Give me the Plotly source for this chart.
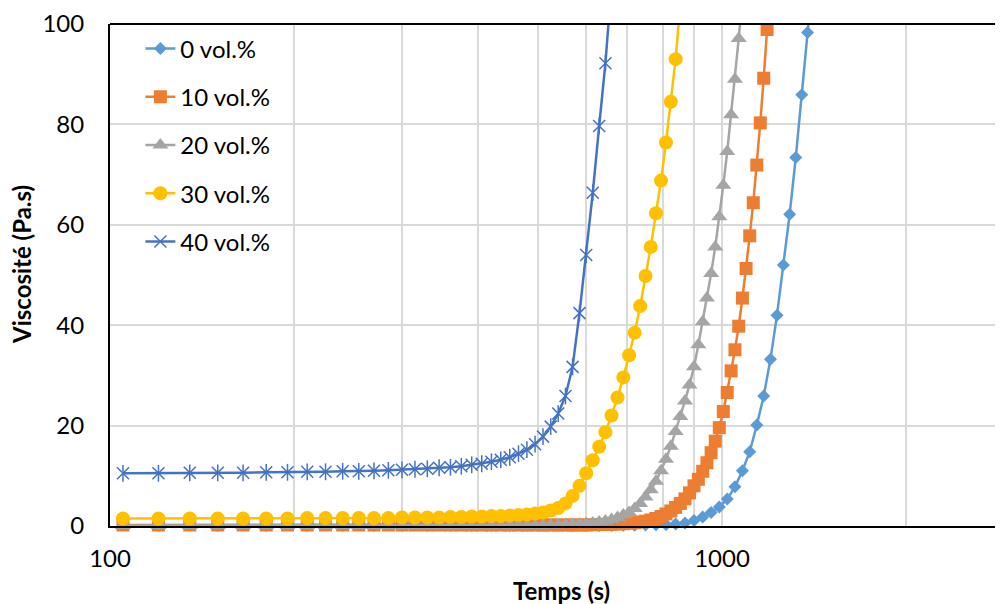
import plotly.graph_objects as go

# ---- data -------------------------------------------------------------
TIME_15S = [105, 120, 135, 150, 165, 180, 195, 210, 225, 240, 255, 270, 285, 300,
            315, 330, 345, 360, 375, 390, 405, 420, 435, 450, 465, 480, 495, 510,
            525, 540, 555, 570, 585, 600, 615, 630, 645, 660, 675, 690, 705, 720,
            735, 750, 765, 780, 795, 810, 825, 840, 855, 870, 885, 900, 915, 930,
            945, 960, 975, 990, 1005, 1020, 1035, 1050, 1065, 1080, 1095, 1110,
            1125, 1140, 1155, 1170, 1185, 1200]

TIME_30S = [120, 150, 180, 210, 240, 270, 300, 330, 360, 390, 420, 450, 480, 510,
            540, 570, 600, 630, 660, 690, 720, 750, 780, 810, 840, 870, 900, 930,
            960, 990, 1020, 1050, 1080, 1110, 1140, 1170, 1200, 1230, 1260, 1290,
            1320, 1350, 1380, 1410]

VISC_0 = [0.1, 0.1, 0.1, 0.1, 0.1, 0.1, 0.1, 0.1, 0.1, 0.1, 0.1, 0.1, 0.1, 0.1,
          0.1, 0.1, 0.1, 0.1, 0.1, 0.15, 0.15, 0.2, 0.25, 0.3, 0.4, 0.6, 1.1, 1.8,
          2.7, 3.8, 5.4, 7.8, 11.0, 14.8, 20.1, 25.9, 33.2, 42.0, 52.0, 62.1,
          73.4, 85.9, 98.3, 111.0]

VISC_10 = [0.2, 0.2, 0.2, 0.2, 0.2, 0.2, 0.2, 0.2, 0.2, 0.2, 0.2, 0.2,
           0.2, 0.2, 0.2, 0.2, 0.2, 0.2, 0.2, 0.2, 0.2, 0.2, 0.2, 0.2, 0.2, 0.2,
           0.2, 0.2, 0.2, 0.2, 0.2, 0.2, 0.2, 0.2, 0.25, 0.3, 0.3, 0.35, 0.4,
           0.45, 0.55, 0.65, 0.8, 0.95, 1.2, 1.5, 1.9, 2.4, 3.0, 3.7, 4.5, 5.4,
           6.6, 8.0, 9.3, 10.9, 12.6, 14.6, 16.9, 19.6, 22.8, 26.6, 30.9, 35.1,
           39.8, 45.4, 51.3, 57.8, 64.4, 71.9, 80.3, 89.2, 98.9, 108.5]

VISC_20 = [0.1, 0.1, 0.1, 0.1, 0.1, 0.1, 0.1, 0.1, 0.1, 0.1, 0.1, 0.1, 0.1, 0.1,
           0.1, 0.1, 0.1, 0.1, 0.1, 0.1, 0.15, 0.15, 0.15, 0.15, 0.15, 0.15,
           0.15, 0.15, 0.2, 0.25, 0.3, 0.35, 0.4, 0.5, 0.6, 0.8, 1.0, 1.3, 1.7,
           2.2, 2.7, 3.5, 4.5, 5.8, 7.2, 8.9, 11.0, 13.3, 15.9, 18.8, 21.8, 24.9,
           28.1, 31.7, 36.1, 40.7, 45.4, 50.3, 55.6, 61.6, 67.9, 74.6, 81.9,
           89.0, 97.1, 105.5]

VISC_30 = [1.5, 1.5, 1.5, 1.5, 1.5, 1.5, 1.5, 1.6, 1.6, 1.6, 1.6, 1.6, 1.6, 1.7,
           1.7, 1.7, 1.7, 1.8, 1.8, 1.9, 1.9, 2.0, 2.0, 2.1, 2.2, 2.3, 2.5, 2.7,
           3.1, 3.6, 4.5, 6.0, 8.0, 10.5, 13.1, 15.8, 18.7, 22.0, 25.6, 29.6,
           34.0, 38.5, 43.8, 49.8, 55.6, 62.3, 68.8, 76.4, 84.5, 93.0, 104.0]

VISC_40 = [10.5, 10.5, 10.6, 10.6, 10.6, 10.7, 10.7, 10.8, 10.8, 10.9, 10.9,
           11.0, 11.1, 11.2, 11.3, 11.4, 11.6, 11.7, 11.9, 12.2, 12.4, 12.8,
           13.2, 13.7, 14.4, 15.2, 16.3, 17.8, 19.8, 22.4, 25.9, 31.7, 42.4,
           54.0, 66.4, 79.7, 92.2, 108.0]

SERIES_NAMES = ["0 vol.%", "10 vol.%", "20 vol.%", "30 vol.%", "40 vol.%"]
X_TICK_VALUES = [100, 200, 300, 400, 500, 600, 700, 800, 900, 1000, 2000, 3000]
X_TICK_LABELS = ["100", "", "", "", "", "", "", "", "", "1000", "", ""]
Y_TICK_VALUES = [0, 20, 40, 60, 80, 100]
Y_TICK_LABELS = ["0", "20", "40", "60", "80", "100"]

X_TITLE = "Temps (s)"
Y_TITLE = "Viscosité (Pa.s)"

# ---- styles -----------------------------------------------------------
FONT = "Lato, 'Open Sans', sans-serif"
FS = 24
YMAX = 100

series = [
    (SERIES_NAMES[0], TIME_30S, VISC_0, "#5B9BD5", "diamond", 10),
    (SERIES_NAMES[1], TIME_15S, VISC_10, "#ED7D31", "square", 13),
    (SERIES_NAMES[2], TIME_15S, VISC_20, "#A5A5A5", "triangle-up", 14),
    (SERIES_NAMES[3], TIME_15S, VISC_30, "#FFC000", "circle", 14),
    (SERIES_NAMES[4], TIME_15S, VISC_40, "#4472C4", "x-thin-open", 12),
]

fig = go.Figure()
for name, t, v, color, symbol, size in series:
    tt = t[:len(v)]
    n_in = sum(1 for val in v if val <= YMAX)
    is_open = "open" in symbol
    fig.add_trace(go.Scatter(
        x=tt[:n_in], y=v[:n_in], name=name, mode="lines+markers",
        legendgroup=name,
        line=dict(color=color, width=2.5),
        marker=dict(symbol=symbol, size=size, color=color,
                    line=dict(color=color, width=1.5 if is_open else 0)),
        cliponaxis=False,
    ))
    if n_in < len(v):
        fig.add_trace(go.Scatter(
            x=tt[n_in - 1:], y=v[n_in - 1:], mode="lines", legendgroup=name,
            showlegend=False, line=dict(color=color, width=2.5),
            hoverinfo="skip",
        ))
    if symbol == "x-thin-open":
        fig.add_trace(go.Scatter(
            x=tt[:n_in], y=v[:n_in], mode="markers", legendgroup=name,
            showlegend=False,
            marker=dict(symbol="line-ns-open", size=size, color=color,
                        line=dict(color=color, width=1.5)),
            cliponaxis=False, hoverinfo="skip",
        ))

# the page body has an 8px margin, so the figure is shifted by (8, 8)
fig.update_layout(
    template="none",
    width=995, height=596,
    margin=dict(l=102, r=0, t=16, b=78, pad=0),
    paper_bgcolor="white", plot_bgcolor="white",
    font=dict(family=FONT, size=FS, color="black"),
    showlegend=True,
    legend=dict(x=0.034, y=0.995, xanchor="left", yanchor="top",
                bgcolor="rgba(255,255,255,0)", borderwidth=0,
                font=dict(family=FONT, size=FS, color="black"),
                tracegroupgap=14, traceorder="grouped", itemwidth=30),
    xaxis=dict(type="log", range=[2, 3.4592], automargin=False,
               tickmode="array", tickvals=X_TICK_VALUES, ticktext=X_TICK_LABELS,
               showgrid=True, gridcolor="#D9D9D9", gridwidth=1.5,
               showline=True, linecolor="black", linewidth=2, mirror=False,
               ticks="outside", ticklen=10, tickcolor="rgba(0,0,0,0)",
               zeroline=False, tickfont=dict(family=FONT, size=FS)),
    yaxis=dict(range=[0, YMAX], tickmode="array", tickvals=Y_TICK_VALUES,
               ticktext=Y_TICK_LABELS, automargin=False,
               showgrid=True, gridcolor="#D9D9D9", gridwidth=1.5,
               showline=True, linecolor="black", linewidth=2,
               ticks="outside", ticklen=19, tickcolor="rgba(0,0,0,0)",
               zeroline=False, tickfont=dict(family=FONT, size=FS)),
    shapes=[dict(type="line", xref="paper", yref="paper", x0=0, x1=1, y0=1, y1=1,
                 line=dict(color="black", width=2), layer="above")],
    annotations=[
        dict(text="<b>" + X_TITLE + "</b>", xref="paper", yref="paper",
             x=0.506, y=-0.128, xanchor="center", yanchor="middle",
             showarrow=False, font=dict(family=FONT, size=FS)),
        dict(text="<b>" + Y_TITLE + "</b>", xref="paper", yref="paper",
             x=-0.0985, y=0.52, xanchor="center", yanchor="middle",
             textangle=-90, showarrow=False, font=dict(family=FONT, size=FS)),
    ],
)

fig.write_html("out.html")
